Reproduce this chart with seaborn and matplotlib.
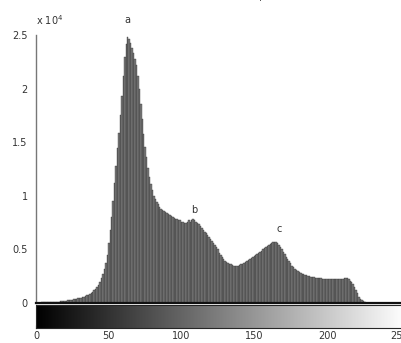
import numpy as np
import pandas as pd
import matplotlib
matplotlib.use("Agg")
import matplotlib.pyplot as plt
import seaborn as sns
from matplotlib.cm import ScalarMappable
from matplotlib.colors import Normalize

# histogram of gray levels 0..255, counts in units of 10^4
levels = list(range(256))
counts_e4 = [
    0.003, 0.003, 0.004, 0.004, 0.005, 0.005, 0.006, 0.006, 0.007, 0.008,
    0.008, 0.009, 0.010, 0.011, 0.012, 0.013, 0.014, 0.015, 0.017, 0.018,
    0.020, 0.022, 0.024, 0.026, 0.028, 0.030, 0.033, 0.036, 0.039, 0.043,
    0.047, 0.051, 0.055, 0.060, 0.065, 0.071, 0.078, 0.086, 0.095, 0.105,
    0.118, 0.132, 0.150, 0.172, 0.198, 0.230, 0.27, 0.32, 0.37, 0.45,
    0.56, 0.68, 0.80, 0.95, 1.12, 1.28, 1.45, 1.59, 1.75, 1.93,
    2.12, 2.30, 2.42, 2.48, 2.46, 2.43, 2.38, 2.33, 2.28, 2.22,
    2.12, 2.00, 1.86, 1.72, 1.58, 1.46, 1.36, 1.26, 1.18, 1.11,
    1.05, 1.00, 0.97, 0.94, 0.92, 0.90, 0.88, 0.87, 0.86, 0.85,
    0.84, 0.83, 0.82, 0.81, 0.80, 0.79, 0.78, 0.78, 0.77, 0.77,
    0.76, 0.76, 0.75, 0.75, 0.76, 0.77, 0.76, 0.77, 0.78, 0.77,
    0.76, 0.75, 0.74, 0.72, 0.70, 0.68, 0.66, 0.65, 0.63, 0.62,
    0.60, 0.58, 0.56, 0.54, 0.52, 0.50, 0.47, 0.45, 0.43, 0.41,
    0.39, 0.38, 0.37, 0.36, 0.36, 0.355, 0.35, 0.35, 0.35, 0.35,
    0.355, 0.36, 0.365, 0.37, 0.38, 0.39, 0.40, 0.41, 0.42, 0.43,
    0.44, 0.45, 0.46, 0.47, 0.48, 0.49, 0.50, 0.51, 0.52, 0.53,
    0.54, 0.55, 0.56, 0.57, 0.57, 0.57, 0.56, 0.54, 0.52, 0.50,
    0.48, 0.46, 0.43, 0.41, 0.39, 0.37, 0.35, 0.34, 0.32, 0.31,
    0.30, 0.29, 0.28, 0.27, 0.27, 0.26, 0.26, 0.25, 0.25, 0.24,
    0.24, 0.24, 0.23, 0.23, 0.23, 0.23, 0.23, 0.22, 0.22, 0.22,
    0.22, 0.22, 0.22, 0.22, 0.22, 0.22, 0.22, 0.22, 0.22, 0.22,
    0.22, 0.22, 0.23, 0.23, 0.23, 0.22, 0.21, 0.20, 0.18, 0.15,
    0.12, 0.09, 0.06, 0.04, 0.025, 0.015, 0.008, 0.004, 0.002, 0.001,
    0, 0, 0, 0, 0, 0, 0, 0, 0, 0,
    0, 0, 0, 0, 0, 0, 0, 0, 0, 0,
    0, 0, 0, 0, 0, 0,
]
yticks = [0, 0.5, 1, 1.5, 2, 2.5]
ytick_labels = ["0", "0.5", "1", "1.5", "2", "2.5"]
xticks = [0, 50, 100, 150, 200, 250]
peak_labels = ["a", "b", "c"]
peak_pos = [(63, 2.64), (109, 0.87), (167, 0.69)]

df = pd.DataFrame({"level": levels, "count": counts_e4})

sns.set_style("white")
plt.rcParams["font.family"] = ["DejaVu Sans"]

fig = plt.figure(figsize=(4.02, 3.43), dpi=100)
ax = fig.add_axes([0.0896, 0.1166, 0.923, 0.781])
sns.histplot(data=df, x="level", weights="count", discrete=True,
             color="#7c7c7c", edgecolor="#2a2a2a", linewidth=0.25,
             alpha=1.0, ax=ax)
ax.set_xlim(0, 255)
ax.set_ylim(0, 2.5)
ax.set_xlabel("")
ax.set_ylabel("")
ax.set_yticks(yticks)
ax.set_yticklabels(ytick_labels)
ax.set_xticks(xticks[1:-1])
ax.set_xticklabels([])
ax.tick_params(axis="both", direction="in", length=3, labelsize=7,
               colors="#333333", width=0.6)
ax.tick_params(axis="y", pad=6)
for s in ["top", "right"]:
    ax.spines[s].set_visible(False)
ax.spines["left"].set_color("#777777")
ax.spines["left"].set_linewidth(1.0)
ax.spines["bottom"].set_color("#111111")
ax.spines["bottom"].set_linewidth(1.6)
ax.text(0, 2.58, r"x 10$^4$", fontsize=7, color="#333333", ha="left", va="bottom")
for lab, (px, py) in zip(peak_labels, peak_pos):
    ax.text(px, py, lab, fontsize=7, color="#333333", ha="center", va="center")
ax.text(154, 2.82, ".", fontsize=7, color="#333333", ha="center")

cax = fig.add_axes([0.0896, 0.0437, 0.923, 0.067])
sm = ScalarMappable(norm=Normalize(0, 255), cmap="gray")
cb = fig.colorbar(sm, cax=cax, orientation="horizontal")
cb.set_ticks(xticks)
cb.ax.tick_params(direction="in", length=2.5, labelsize=7, colors="#333333", pad=2)
cb.outline.set_linewidth(0.8)

fig.savefig("out.png", dpi=100)
